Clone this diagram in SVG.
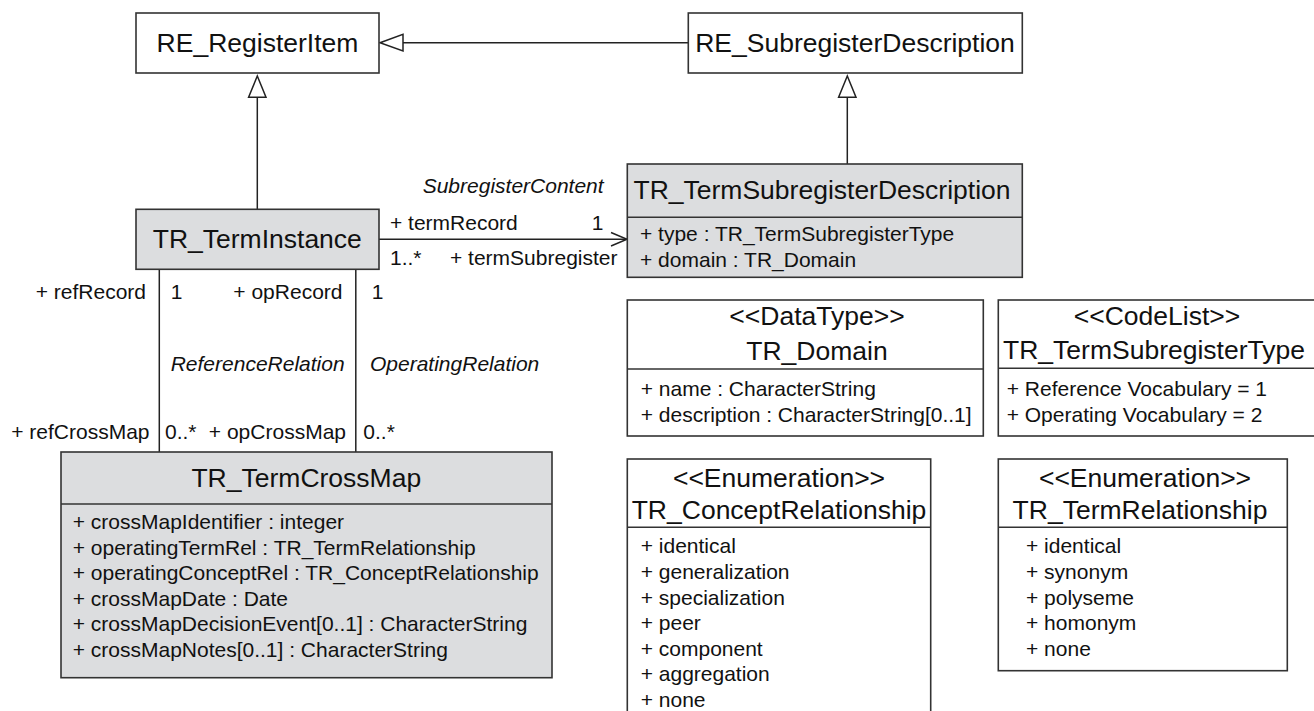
<svg xmlns="http://www.w3.org/2000/svg" width="1314" height="711" viewBox="0 0 1314 711">
  <style>
    .box { stroke: #333; stroke-width: 1.6; fill: #ffffff; }
    .gray { fill: #dcdddf; }
    .sep { stroke: #333; stroke-width: 1.6; }
    .ln { stroke: #222; stroke-width: 1.5; fill: none; }
    .tri { stroke: #222; stroke-width: 1.5; fill: #ffffff; }
    text { font-family: "Liberation Sans", Arial, sans-serif; fill: #111; }
    .t { font-size: 26.5px; text-anchor: middle; }
    .a { font-size: 21px; }
    .i { font-size: 21px; font-style: italic; }
    .e { text-anchor: end; }
  </style>
  <rect width="1314" height="711" fill="#ffffff"/>

  <g id="connectors">
    <!-- RE_SubregisterDescription -> RE_RegisterItem generalization -->
    <line class="ln" x1="688" y1="42.7" x2="403" y2="42.7"/>
    <polygon class="tri" points="380,42.7 403,34.4 403,51"/>
    <!-- TR_TermInstance -> RE_RegisterItem -->
    <line class="ln" x1="257.3" y1="209" x2="257.3" y2="97.3"/>
    <polygon class="tri" points="257.3,76 248.6,97.3 266,97.3"/>
    <!-- TR_TermSubregisterDescription -> RE_SubregisterDescription -->
    <line class="ln" x1="847.3" y1="164" x2="847.3" y2="97.3"/>
    <polygon class="tri" points="847.3,76 838.6,97.3 856,97.3"/>
    <!-- SubregisterContent association -->
    <line class="ln" x1="379" y1="239.3" x2="627" y2="239.3"/>
    <polyline class="ln" points="611,232.5 627,239.3 611,246"/>
    <!-- ReferenceRelation / OperatingRelation -->
    <line class="ln" x1="159.3" y1="269" x2="159.3" y2="452"/>
    <line class="ln" x1="355.8" y1="269" x2="355.8" y2="452"/>

    <text class="i" x="422.7" y="192.7">SubregisterContent</text>
    <text class="a" x="390" y="230">+ termRecord</text>
    <text class="a" x="591.7" y="230">1</text>
    <text class="a" x="390" y="265">1..*</text>
    <text class="a" x="450" y="265">+ termSubregister</text>

    <text class="a e" x="146" y="299">+ refRecord</text>
    <text class="a" x="170.7" y="299">1</text>
    <text class="a e" x="342.5" y="299">+ opRecord</text>
    <text class="a" x="371.7" y="299">1</text>
    <text class="i" x="170.7" y="370.7">ReferenceRelation</text>
    <text class="i" x="370" y="370.7">OperatingRelation</text>
    <text class="a e" x="149.5" y="439">+ refCrossMap</text>
    <text class="a" x="165" y="439">0..*</text>
    <text class="a e" x="346" y="439">+ opCrossMap</text>
    <text class="a" x="363.3" y="439">0..*</text>
  </g>

  <g id="RE_RegisterItem">
    <rect class="box" x="136" y="13" width="243" height="60"/>
    <text class="t" x="257.5" y="52">RE_RegisterItem</text>
  </g>

  <g id="RE_SubregisterDescription">
    <rect class="box" x="688.3" y="13" width="334" height="60"/>
    <text class="t" x="855" y="52">RE_SubregisterDescription</text>
  </g>

  <g id="TR_TermInstance">
    <rect class="box gray" x="136" y="209.3" width="243" height="60"/>
    <text class="t" x="257.3" y="247.5">TR_TermInstance</text>
  </g>

  <g id="TR_TermSubregisterDescription">
    <rect class="box gray" x="627.3" y="164" width="395" height="113.3"/>
    <line class="sep" x1="627.3" y1="217.3" x2="1022.3" y2="217.3"/>
    <text class="t" x="822" y="199">TR_TermSubregisterDescription</text>
    <text class="a" x="640" y="241">+ type : TR_TermSubregisterType</text>
    <text class="a" x="640" y="266.5">+ domain : TR_Domain</text>
  </g>

  <g id="TR_TermCrossMap">
    <rect class="box gray" x="61" y="452" width="491" height="225.7"/>
    <line class="sep" x1="61" y1="504" x2="552" y2="504"/>
    <text class="t" x="306.3" y="487">TR_TermCrossMap</text>
    <text class="a" x="72.7" y="529">+ crossMapIdentifier : integer</text>
    <text class="a" x="72.7" y="554.5">+ operatingTermRel : TR_TermRelationship</text>
    <text class="a" x="72.7" y="580">+ operatingConceptRel : TR_ConceptRelationship</text>
    <text class="a" x="72.7" y="605.5">+ crossMapDate : Date</text>
    <text class="a" x="72.7" y="631">+ crossMapDecisionEvent[0..1] : CharacterString</text>
    <text class="a" x="72.7" y="656.5">+ crossMapNotes[0..1] : CharacterString</text>
  </g>

  <g id="TR_Domain">
    <rect class="box" x="627.3" y="300" width="356" height="136"/>
    <line class="sep" x1="627.3" y1="369" x2="983.3" y2="369"/>
    <text class="t" x="817" y="325">&lt;&lt;DataType&gt;&gt;</text>
    <text class="t" x="817" y="359.5">TR_Domain</text>
    <text class="a" x="640.7" y="396">+ name : CharacterString</text>
    <text class="a" x="640.7" y="421.5">+ description : CharacterString[0..1]</text>
  </g>

  <g id="TR_TermSubregisterType">
    <rect class="box" x="998.3" y="300" width="330" height="136"/>
    <line class="sep" x1="998.3" y1="368.3" x2="1314" y2="368.3"/>
    <text class="t" x="1157" y="325">&lt;&lt;CodeList&gt;&gt;</text>
    <text class="t" x="1154" y="359">TR_TermSubregisterType</text>
    <text class="a" x="1006.7" y="396">+ Reference Vocabulary = 1</text>
    <text class="a" x="1006.7" y="421.5">+ Operating Vocabulary = 2</text>
  </g>

  <g id="TR_ConceptRelationship">
    <rect class="box" x="627.3" y="459" width="303.4" height="260"/>
    <line class="sep" x1="627.3" y1="527.3" x2="930.7" y2="527.3"/>
    <text class="t" x="779" y="486.7">&lt;&lt;Enumeration&gt;&gt;</text>
    <text class="t" x="779" y="518.5">TR_ConceptRelationship</text>
    <text class="a" x="640.7" y="553.3">+ identical</text>
    <text class="a" x="640.7" y="579">+ generalization</text>
    <text class="a" x="640.7" y="604.5">+ specialization</text>
    <text class="a" x="640.7" y="630.2">+ peer</text>
    <text class="a" x="640.7" y="655.8">+ component</text>
    <text class="a" x="640.7" y="681.4">+ aggregation</text>
    <text class="a" x="640.7" y="707">+ none</text>
  </g>

  <g id="TR_TermRelationship">
    <rect class="box" x="998.3" y="459" width="289" height="211.7"/>
    <line class="sep" x1="998.3" y1="527.3" x2="1287.3" y2="527.3"/>
    <text class="t" x="1145" y="486.7">&lt;&lt;Enumeration&gt;&gt;</text>
    <text class="t" x="1140" y="518.5">TR_TermRelationship</text>
    <text class="a" x="1026" y="553.3">+ identical</text>
    <text class="a" x="1026" y="579">+ synonym</text>
    <text class="a" x="1026" y="604.5">+ polyseme</text>
    <text class="a" x="1026" y="630.2">+ homonym</text>
    <text class="a" x="1026" y="655.8">+ none</text>
  </g>
</svg>
